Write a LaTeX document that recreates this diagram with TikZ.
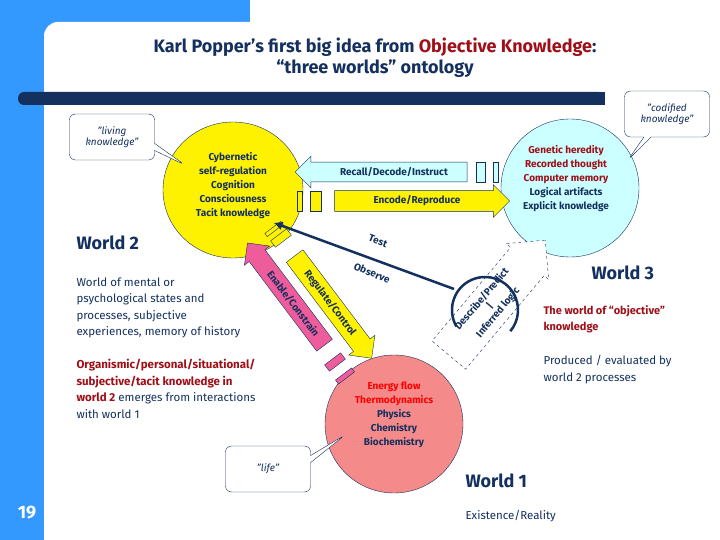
\documentclass[tikz,border=0pt]{standalone}
\usepackage{fontspec}
\setmainfont{Fira Sans}
\usetikzlibrary{shapes.arrows,shapes.callouts,shapes.geometric,arrows.meta}
\definecolor{navy}{HTML}{14305E}
\definecolor{dred}{HTML}{A00F18}
\definecolor{sideblue}{HTML}{3399FF}
\definecolor{lcyan}{HTML}{CCFFFF}
\definecolor{lpink}{HTML}{F48A8A}
\definecolor{apink}{HTML}{EE5C9C}
\tikzset{
 callbox/.style={rectangle callout,draw=navy,rounded corners=6pt,fill=white,minimum width=85pt,minimum height=46pt,font=\itshape\fontsize{10}{11}\selectfont,align=center,text=navy},
 sarrow/.style={single arrow,draw=navy,single arrow head extend=6pt,minimum height=#1,inner xsep=2pt,inner ysep=5pt,font=\bfseries\fontsize{10}{11}\selectfont,text=navy},
 circtext/.style={font=\bfseries\fontsize{10}{14}\selectfont,align=center,text=navy},
 world/.style={font=\bfseries\fontsize{18}{20}\selectfont,text=navy,anchor=west},
 body/.style={font=\fontsize{11.5}{16.5}\selectfont,text=navy,anchor=north west,align=left},
 sq/.style={draw=navy,minimum width=#1,minimum height=20pt,inner sep=0pt},
}
\begin{document}
\begin{tikzpicture}[x=1pt,y=-1pt]
\useasboundingbox (0,0) rectangle (720,540);
\fill[sideblue] (0,0) rectangle (250,24);
\fill[sideblue] (0,0) rectangle (60,540);
\fill[white,rounded corners=14pt] (44,22) rectangle (760,560);
\fill[white] (60,40) rectangle (720,540);
\fill[navy,rounded corners=6pt] (18,92) rectangle (605,105);
\fill[navy] (30,92) rectangle (605,105);
\node[font=\bfseries\fontsize{18}{21}\selectfont,text=navy,align=center] (title) at (375,58)
 {Karl Popper's first big idea from \textcolor{dred}{Objective Knowledge}:\\“three worlds” ontology};
\node[text=white,font=\bfseries\fontsize{18}{20}\selectfont] (num) at (27,513) {19};
% circles
\node[ellipse,draw=navy,fill=yellow,minimum width=140pt,minimum height=136pt] (w2) at (233,190) {};
\node[circtext] (w2t) at (233,186) {Cybernetic\\self-regulation\\Cognition\\Consciousness\\Tacit knowledge};
\node[circle,draw=navy,fill=lcyan,minimum size=138pt] (w3) at (570,188) {};
\node[circtext] (w3t) at (566,179) {\textcolor{dred}{Genetic heredity}\\\textcolor{dred}{Recorded thought}\\\textcolor{dred}{Computer memory}\\Logical artifacts\\Explicit knowledge};
\node[circle,draw=navy,fill=lpink,minimum size=138pt] (w1) at (394,424) {};
\node[circtext] (w1t) at (394,415) {\textcolor{red}{Energy flow}\\\textcolor{red}{Thermodynamics}\\Physics\\Chemistry\\Biochemistry};
% callouts
\node[callbox,callout absolute pointer={(185,165)}] (liv) at (112,137) {"living\\knowledge"};
\node[callbox,callout absolute pointer={(628,160)}] (cod) at (667,114) {"codified\\knowledge"};
\node[callbox,callout absolute pointer={(345,435)}] (life) at (268,469) {"life"};
% horizontal arrows
\node[sarrow=172pt,fill=lcyan,shape border rotate=180] (rec) at (386,172) {\hspace{16pt}Recall/Decode/Instruct};
\node[sq=9pt,fill=lcyan] (rs1) at (481,172) {};
\node[sq=5pt,fill=lcyan] (rs2) at (496,172) {};
\node[sarrow=175pt,fill=yellow] (enc) at (417,201) {Encode/Reproduce\hspace{16pt}};
\node[sq=5pt,fill=yellow] (es1) at (300,201) {};
\node[sq=11pt,fill=yellow] (es2) at (316,201) {};
% diagonal arrows
\node[sarrow=128pt,fill=apink,rotate=-53,shape border rotate=180] (ena) at (289,298) {\hspace{14pt}Enable/Constrain};
\node[sq=8pt,fill=apink,rotate=-53] (ps1) at (335,362) {};
\node[sq=5pt,fill=apink,rotate=-53] (ps2) at (345,376) {};
\node[sarrow=128pt,fill=yellow,rotate=-53] (reg) at (330,303) {Regulate/Control\hspace{14pt}};
\node[sq=8pt,fill=yellow,rotate=-53] (ys1) at (281,238) {};
\node[sq=4pt,fill=yellow,rotate=-53] (ys2) at (274,229) {};
% describe arrow
\node[single arrow,draw=navy,dashed,fill=white,rotate=50,minimum height=150pt,single arrow head extend=6pt,inner xsep=2pt,inner ysep=6pt,
 font=\bfseries\fontsize{10}{10.5}\selectfont,text=navy,align=center] (des) at (490,306) {Describe/Predict\\|\\Inferred logic};
% test / observe line with loop
\coordinate (lp) at (454,289);
\draw[navy,line width=2.5pt,-{Latex[length=9pt,width=9pt]}] (lp) -- (w2t.south east);
\draw[navy,line width=2.5pt] (485,310) ++(150:33) arc[start angle=150,end angle=400,radius=33];
\node[text=navy,font=\bfseries\fontsize{10}{11}\selectfont,rotate=-22] (test) at (378,241) {Test};
\node[text=navy,font=\bfseries\fontsize{10}{11}\selectfont,rotate=-22] (obs) at (372,273) {Observe};
% texts
\node[world] (W2) at (73,243) {World 2};
\node[body] (p1) at (73,274) {World of mental or\\psychological states and\\processes, subjective\\experiences, memory of history};
\node[body] (p2) at (73,356) {\textcolor{dred}{\bfseries Organismic/personal/situational/}\\\textcolor{dred}{\bfseries subjective/tacit knowledge in}\\\textcolor{dred}{\bfseries world 2} emerges from interactions\\with world 1};
\node[world] (W3) at (588,273) {World 3};
\node[body,font=\bfseries\fontsize{11}{16.5}\selectfont,text=dred] (p3) at (540,302) {The world of “objective”\\knowledge};
\node[body] (p4) at (540,352) {Produced / evaluated by\\world 2 processes};
\node[world] (W1) at (462,481) {World 1};
\node[body] (p5) at (462,507) {Existence/Reality};
\end{tikzpicture}
\end{document}
